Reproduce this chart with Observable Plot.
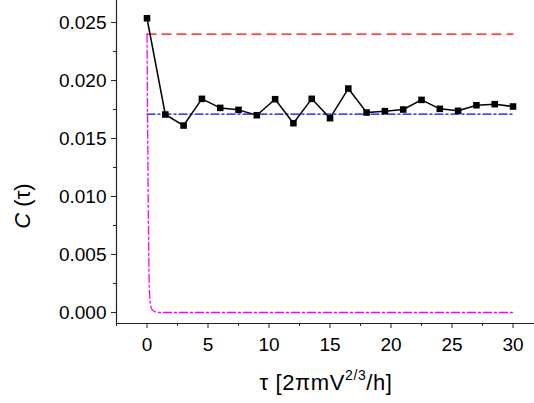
<!DOCTYPE html>
<html><head><meta charset="utf-8">
<script src="https://cdn.jsdelivr.net/npm/d3@7"></script>
<script src="https://cdn.jsdelivr.net/npm/@observablehq/plot@0.6"></script>
<style>body{margin:0;background:#fff} svg{font-family:"Liberation Sans",Arial,sans-serif}</style>
</head><body><div id="chart"></div>
<script>
const tau = [0,1.5,3,4.5,6,7.5,9,10.5,12,13.5,15,16.5,18,19.5,21,22.5,24,25.5,27,28.5,30];
const corr = [0.02537,0.01707,0.01612,0.01842,0.01764,0.01747,0.01701,0.01839,0.01632,0.01842,0.01675,0.01931,0.01724,0.01736,0.0175,0.01833,0.01756,0.01739,0.01787,0.01796,0.01776];
const redLevel = 0.024;
const blueLevel = 0.0171;
const decayT = [0,0.05,0.1,0.15,0.2,0.3,0.45,0.7,1,30];
const decayC = [0.024,0.0165,0.0095,0.0045,0.0018,0.0006,0.0002,0.00005,0,0];
const xDomain = [-2.5, 31.76];
const yDomain = [-0.00095, 0.0269];
const xMajor = [0,5,10,15,20,25,30];
const xMinor = [-2.5,2.5,7.5,12.5,17.5,22.5,27.5];
const yMajor = [0,0.005,0.01,0.015,0.02,0.025];
const yMinor = [0.0025,0.0075,0.0125,0.0175,0.0225];

const pts = tau.map((t,i)=>({t, c:corr[i]}));
const decay = decayT.map((t,i)=>({t, c:decayC[i]}));
const span = [tau[0], tau[tau.length-1]];
const blank = () => "";

const plot = Plot.plot({
  width: 534, height: 403,
  marginLeft: 116, marginRight: 0, marginTop: 0, marginBottom: 80,
  style: {fontFamily: '"Liberation Sans", Arial, sans-serif', fontSize: "19px", color: "#000", background: "#fff"},
  x: {domain: xDomain},
  y: {domain: yDomain},
  marks: [
    Plot.axisX(xMinor, {tickSize: 3, tickFormat: blank, label: null, stroke: "#222"}),
    Plot.axisX(xMajor, {tickSize: 5, tickPadding: 9, tickFormat: d3.format("d"), label: null, fontSize: 19, stroke: "#222", fill: "#000"}),
    Plot.axisY(yMinor, {tickSize: 3, tickFormat: blank, label: null, stroke: "#222"}),
    Plot.axisY(yMajor, {tickSize: 5, tickPadding: 5, tickFormat: d3.format(".3f"), label: null, fontSize: 19, stroke: "#222", fill: "#000"}),
    Plot.ruleX([xDomain[0]], {stroke: "#222", strokeWidth: 1.2}),
    Plot.ruleY([yDomain[0]], {stroke: "#222", strokeWidth: 1.2}),
    Plot.line(span.map(t=>({t, c:redLevel})), {x:"t", y:"c", stroke:"#ff0000", strokeWidth:1.3, strokeDasharray:"9,6"}),
    Plot.line(span.map(t=>({t, c:blueLevel})), {x:"t", y:"c", stroke:"#0000ff", strokeWidth:1.3, strokeDasharray:"8,3,2,3"}),
    Plot.line(decay, {x:"t", y:"c", stroke:"#ff00ff", strokeWidth:1.3, strokeDasharray:"8,3,2,3", curve:"monotone-x"}),
    Plot.line(pts, {x:"t", y:"c", stroke:"#000", strokeWidth:1.5}),
    Plot.dot(pts, {x:"t", y:"c", symbol:"square", r:3.7, fill:"#000", stroke:"none"})
  ]
});

const svg = d3.select(plot);
svg.append("text")
  .attr("transform", "translate(30,206) rotate(-90)")
  .attr("text-anchor", "middle")
  .attr("font-size", 22)
  .attr("fill", "#000")
  .call(t => {
    t.append("tspan").attr("font-style", "italic").text("C");
    t.append("tspan").text(" (τ)");
  });
svg.append("text")
  .attr("x", 326).attr("y", 390)
  .attr("text-anchor", "middle")
  .attr("font-size", 22)
  .attr("letter-spacing", 0.6)
  .attr("fill", "#000")
  .call(t => {
    t.append("tspan").text("τ [2πmV");
    t.append("tspan").attr("font-size", 14).attr("dy", -10).text("2/3");
    t.append("tspan").attr("dy", 10).text("/h]");
  });
document.getElementById("chart").appendChild(plot);
</script>
</body></html>
